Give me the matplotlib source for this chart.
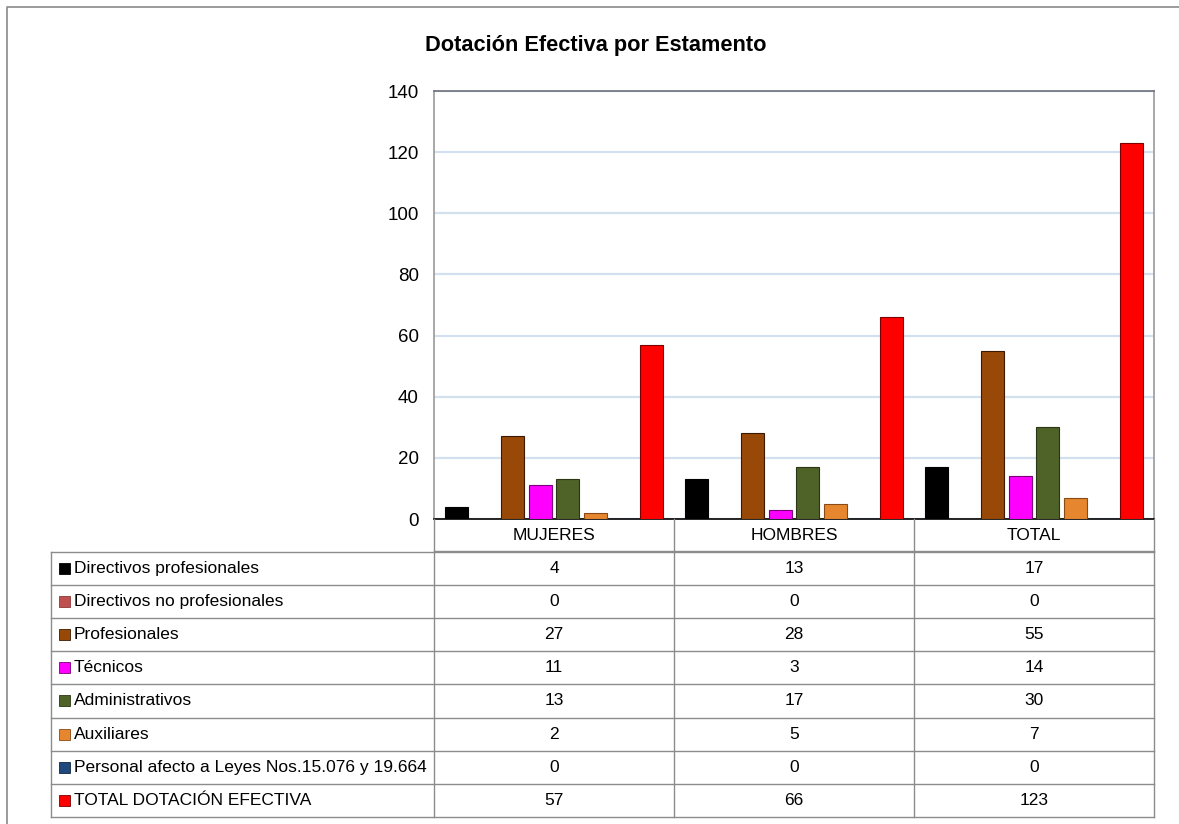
import matplotlib
matplotlib.use("Agg")
import matplotlib.pyplot as plt
from matplotlib.patches import Rectangle

plt.rcParams['font.family'] = ['Liberation Sans', 'DejaVu Sans']

title = "Dotación Efectiva por Estamento"
groups = ["MUJERES", "HOMBRES", "TOTAL"]
series = ["Directivos profesionales", "Directivos no profesionales", "Profesionales",
          "Técnicos", "Administrativos", "Auxiliares",
          "Personal afecto a Leyes Nos.15.076 y 19.664", "TOTAL DOTACIÓN EFECTIVA"]
values = [
    [4, 13, 17],
    [0, 0, 0],
    [27, 28, 55],
    [11, 3, 14],
    [13, 17, 30],
    [2, 5, 7],
    [0, 0, 0],
    [57, 66, 123],
]
colors = ["#000000", "#c0504d", "#984807", "#ff00ff", "#4f6228", "#e6862e", "#1f497d", "#ff0000"]
edges = ["#000000", "#8c3836", "#3a1a02", "#7a007a", "#2a3614", "#8a4a14", "#10253f", "#7a0000"]
yticks = [0, 20, 40, 60, 80, 100, 120, 140]

W, H = 1179, 824
fig = plt.figure(figsize=(W / 100, H / 100), dpi=100)

# plot area in pixels
L, R, T, B = 434, 1154, 91, 519
ax = fig.add_axes([L / W, 1 - B / H, (R - L) / W, (B - T) / H])
ax.set_xlim(0, 3)
ax.set_ylim(0, 140)
slot = 27.85 / 240
bw = 23 / 240
for i, (vals, c, ec) in enumerate(zip(values, colors, edges)):
    off = (i - 3.5) * slot
    xs = [g + 0.5 + off for g in range(len(groups))]
    ax.bar(xs, vals, width=bw, color=c, edgecolor=ec, linewidth=0.8, zorder=3)
ax.set_yticks(yticks)
ax.set_yticklabels([str(v) for v in yticks], fontsize=13.5)
ax.tick_params(axis='y', length=0, pad=11)
ax.set_xticks([])
ax.grid(axis='y', color='#d3e0f0', linewidth=1.6, zorder=0)
for s in ['left', 'right', 'top']:
    ax.spines[s].set_color('#9a9a9a')
    ax.spines[s].set_linewidth(1.2)
ax.spines['top'].set_color('#6a6f78')
ax.spines['bottom'].set_color('#000000')
ax.spines['bottom'].set_linewidth(1.2)

# overlay for table and frame
ov = fig.add_axes([0, 0, 1, 1], zorder=5)
ov.set_xlim(0, W)
ov.set_ylim(H, 0)
ov.axis('off')
ov.patch.set_alpha(0)

# outer border (only left and top visible)
ov.plot([6.5, 6.5, W], [H, 6.5, 6.5], color='#8a8a8a', lw=1.2)

ov.text(596, 45, title, ha='center', va='center', fontsize=15.7, fontweight='bold')

lc = '#8c8c8c'
colx = [434, 674, 914, 1154]
tab_left = 51
row_top = 552
rh = 33.1
nrows = len(series)
tab_bottom = row_top + rh * nrows
# header row
ov.plot([434, 1154], [551, 551], color=lc, lw=1)
for x in colx:
    ov.plot([x, x], [519, tab_bottom], color=lc, lw=1)
for g, x0 in zip(groups, colx[:-1]):
    ov.text(x0 + 120, 535.5, g, ha='center', va='center', fontsize=12.5)
# table rows
ov.plot([tab_left, tab_left], [row_top, tab_bottom], color=lc, lw=1)
for r in range(nrows + 1):
    y = row_top + rh * r
    ov.plot([tab_left, 1154], [y, y], color=lc, lw=1)
for r, (name, vals, c, ec) in enumerate(zip(series, values, colors, edges)):
    yc = row_top + rh * (r + 0.5)
    ov.add_patch(Rectangle((59, yc - 5.5), 11, 11, facecolor=c, edgecolor=ec, linewidth=0.6))
    ov.text(74, yc, name, ha='left', va='center', fontsize=12.5)
    for v, x0 in zip(vals, colx[:-1]):
        ov.text(x0 + 120, yc, str(v), ha='center', va='center', fontsize=12.5)

fig.savefig("out.png", dpi=100)
